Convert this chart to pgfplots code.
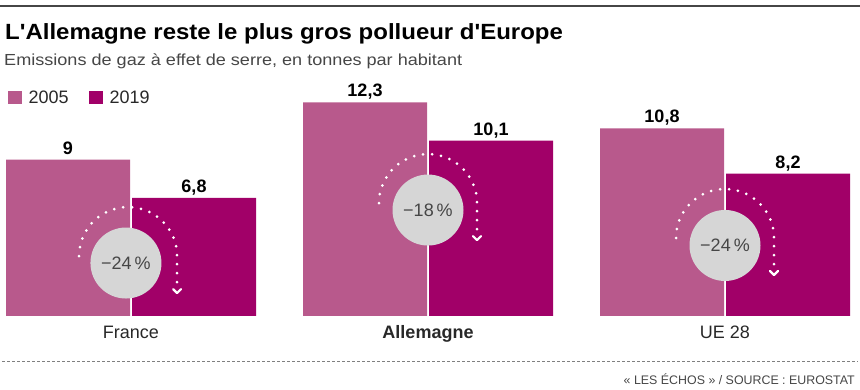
\documentclass[border=0pt]{standalone}
\usepackage{pgfplots}
\pgfplotsset{compat=1.18}
\usepackage{fontspec}
\setmainfont{Liberation Sans}
\newfontfamily\titlefont[FakeStretch=1.09]{Liberation Sans}
\newfontfamily\subfont[FakeStretch=1.13]{Liberation Sans}
\definecolor{cA}{RGB}{184,89,140}
\definecolor{cB}{RGB}{161,0,104}
\definecolor{circ}{RGB}{214,214,214}
\definecolor{txt}{RGB}{40,40,40}
\definecolor{sub}{RGB}{70,70,70}
\tikzset{dotarc/.style={white, line width=3pt, line cap=round, dash pattern=on 0pt off 9pt},
  chev/.style={white, line width=2.2pt, line cap=round, line join=round}}
\begin{document}
\begin{tikzpicture}[x=1pt,y=1pt]
\useasboundingbox (0,0) rectangle (860,390);
\draw[line width=1.2pt, color=sub] (0,384) -- (860,384);
\node[anchor=base west, inner sep=0pt, font=\titlefont\bfseries\fontsize{22}{24}\selectfont, text=black] at (5,350) {L'Allemagne reste le plus gros pollueur d'Europe};
\node[anchor=base west, inner sep=0pt, font=\subfont\fontsize{16}{18}\selectfont, text=sub] at (4,324.3) {Emissions de gaz à effet de serre, en tonnes par habitant};
\draw[dash pattern=on 3pt off 2pt, line width=0.8pt, color=gray] (2,28.3) -- (858,28.3);
\node[anchor=base east, inner sep=0pt, font=\fontsize{12.4}{15}\selectfont, text=sub] at (855,5) {« LES ÉCHOS » / SOURCE : EUROSTAT};
\begin{axis}[
  at={(0pt,74pt)}, anchor=south west, scale only axis,
  width=860pt, height=225.81pt,
  xmin=-0.44108, xmax=2.45455, ymin=0, ymax=13,
  ybar, bar width=124pt,
  axis line style={draw=none}, tick style={draw=none}, major tick length=0pt,
  ytick=\empty, xtick={0,1,2},
  xticklabels={France,\textbf{Allemagne},UE 28},
  xticklabel style={font=\fontsize{18}{20}\selectfont, text=txt, anchor=base, yshift=-23pt},
  nodes near coords,
  nodes near coords style={font=\bfseries\fontsize{18}{20}\selectfont, text=black, anchor=base, yshift=5.5pt, inner sep=0pt, /pgf/number format/assume math mode=true, /pgf/number format/use comma},
  clip=false,
  legend style={draw=none, fill=none, at={(0.0051,1.016)}, anchor=north west, legend columns=2, font=\fontsize{18}{20}\selectfont, text=txt,
    /tikz/every odd column/.append style={column sep=5pt},
    /tikz/every even column/.append style={column sep=18pt}},
  legend image code/.code={\fill[#1] (0pt,-6pt) rectangle (14pt,7pt);},
]
\addplot[fill=cA, draw=none, bar shift=-63pt] coordinates {(0,9) (1,12.3) (2,10.8)};
\addplot[fill=cB, draw=none, bar shift=63pt] coordinates {(0,6.8) (1,10.1) (2,8.2)};
\legend{2005,2019}
% circles
\fill[circ] (axis cs:-0.017,3.05) circle[radius=35.5pt];
\fill[circ] (axis cs:1.0,6.10) circle[radius=35.5pt];
\fill[circ] (axis cs:2.0,4.06) circle[radius=35.5pt];
\node[font=\fontsize{18}{20}\selectfont, text=sub] at (axis cs:-0.017,3.05) {−24\,\%};
\node[font=\fontsize{18}{20}\selectfont, text=sub] at (axis cs:1.0,6.10) {−18\,\%};
\node[font=\fontsize{18}{20}\selectfont, text=sub] at (axis cs:2.0,4.06) {−24\,\%};
% dotted arcs
\draw[dotarc] (axis cs:-0.01,3.45) ++(-49pt,0pt) arc[start angle=180, end angle=0, radius=49pt] -- ++(0pt,-28pt);
\draw[chev] (axis cs:-0.01,3.45) ++(45pt,-33pt) -- ++(4pt,-4pt) -- ++(4pt,4pt);
\draw[dotarc] (axis cs:1.0,6.5) ++(-49pt,0pt) arc[start angle=180, end angle=0, radius=49pt] -- ++(0pt,-28pt);
\draw[chev] (axis cs:1.0,6.5) ++(45pt,-33pt) -- ++(4pt,-4pt) -- ++(4pt,4pt);
\draw[dotarc] (axis cs:2.0,4.49) ++(-49pt,0pt) arc[start angle=180, end angle=0, radius=49pt] -- ++(0pt,-28pt);
\draw[chev] (axis cs:2.0,4.49) ++(45pt,-33pt) -- ++(4pt,-4pt) -- ++(4pt,4pt);
\end{axis}
\end{tikzpicture}
\end{document}
